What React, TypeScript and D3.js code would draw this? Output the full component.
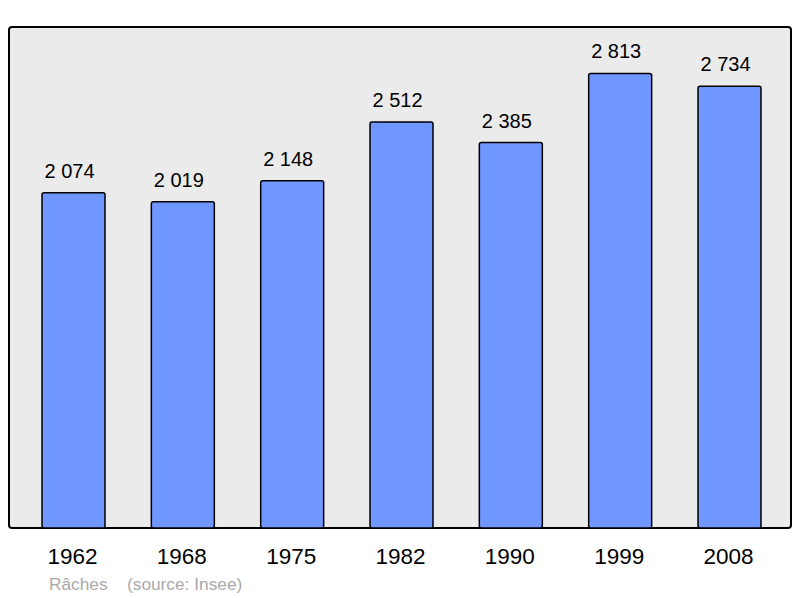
import React from "react";
import * as d3 from "d3";

const years = ["1962", "1968", "1975", "1982", "1990", "1999", "2008"];
const population = [2074, 2019, 2148, 2512, 2385, 2813, 2734];
const commune = "Râches";
const source = "(source: Insee)";

export default function App() {
  const W = 800, H = 598;
  const panel = { x: 9, y: 27, w: 782, h: 501 };
  const x = d3.scalePoint<string>().domain(years).range([73.5, 729.5]);
  const y = d3.scaleLinear().domain([0, 3100]).range([panel.y + panel.h, panel.y]);
  const bw = 63;
  const fmt = (v: number) => d3.format(",")(v).replace(/,/g, " ");
  const font = "'Liberation Sans', Arial, sans-serif";
  return (
    <svg width={W} height={H} style={{ position: "absolute", left: 0, top: 0 }} fontFamily={font}>
      <rect x={0} y={0} width={W} height={H} fill="#fff" />
      <rect x={panel.x} y={panel.y} width={panel.w} height={panel.h} rx={3} fill="#ebebeb" stroke="#000" strokeWidth={2} />
      {years.map((yr, i) => {
        const cx = x(yr)!;
        const top = y(population[i]);
        return (
          <g key={yr}>
            <rect x={cx - bw / 2} y={top} width={bw} height={y(0) - top} rx={2} fill="#7096ff" stroke="#000" strokeWidth={1.5} />
            <text x={cx - 4} y={top - 15} textAnchor="middle" fontSize={20} fill="#000">{fmt(population[i])}</text>
            <text x={cx - 1} y={564} textAnchor="middle" fontSize={22.5} fill="#000">{yr}</text>
          </g>
        );
      })}
      <text x={49} y={590} fontSize={17.3} fill="#aaa">{commune}</text>
      <text x={127} y={590} fontSize={17.3} fill="#aaa">{source}</text>
    </svg>
  );
}
